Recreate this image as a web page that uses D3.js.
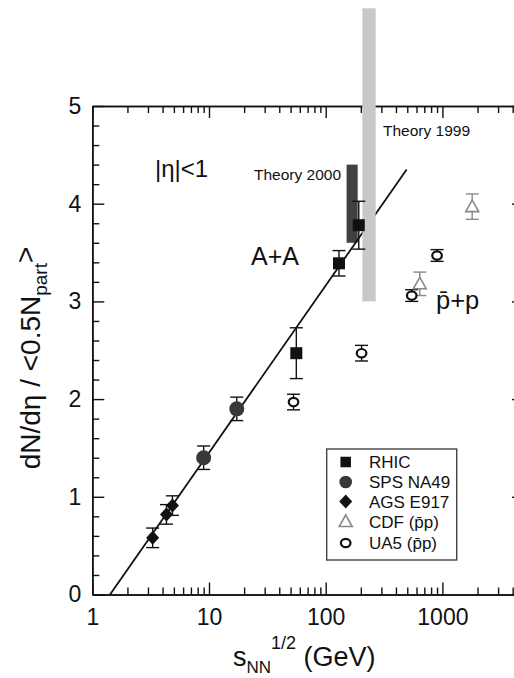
<!DOCTYPE html>
<html>
<head>
<meta charset="utf-8">
<script src="https://cdn.jsdelivr.net/npm/d3@7"></script>
<style>
  body { margin: 0; background: #fff; }
  svg { display: block; font-family: "Liberation Sans", Arial, Helvetica, sans-serif; }
</style>
</head>
<body>
<svg id="chart" width="514" height="678"></svg>
<script>
// Charged-particle density per participant pair vs. collision energy
const rhicX = [56, 130, 192],  rhicY = [2.47, 3.39, 3.78], rhicErr = [0.26, 0.13, 0.245];
const spsX  = [9.0, 17.3],      spsY  = [1.40, 1.90],       spsErr  = [0.12, 0.12];
const agsX  = [3.29, 4.32, 4.86], agsY = [0.58, 0.82, 0.91], agsErr = [0.1, 0.1, 0.1];
const cdfX  = [640, 1800],      cdfY  = [3.18, 3.97],       cdfErr  = [0.12, 0.13];
const ua5X  = [53, 203, 546, 900], ua5Y = [1.97, 2.47, 3.06, 3.47], ua5Err = [0.08, 0.08, 0.06, 0.06];

// logarithmic fit through the A+A points
const fitX = [1.42, 494];
const fitY = [0, 4.35];

// theory predictions (energy range, multiplicity range)
const theory2000X = [151, 188], theory2000Y = [3.6, 4.4];
const theory1999X = [206, 268], theory1999Y = [3.0, 6.0];

const xTicks = [1, 10, 100, 1000];
const yTicks = [0, 1, 2, 3, 4, 5];

const legendLabels = ["RHIC", "SPS NA49", "AGS E917", "CDF (p\u0304p)", "UA5 (p\u0304p)"];

const svg = d3.select("#chart");
const plotLeft = 92.3, plotBottom = 594.5, plotTop = 106;
const x = d3.scaleLog().domain([1, 5000]).range([plotLeft, plotLeft + 116.7 * Math.log10(5000)]);
const y = d3.scaleLinear().domain([0, 5]).range([plotBottom, plotTop]);
const plotRight = x(5000);

const xMinor = [];
for (let d = 1; d <= 1000; d *= 10) for (let k = 2; k <= 9; k++) if (d * k <= 5000) xMinor.push(d * k);
const yMinor = d3.range(0, 5.001, 0.2).filter(v => Math.abs(v - Math.round(v)) > 1e-6);

const INK = "#111";

function styleAxis(g) {
  g.selectAll("path.domain").attr("stroke", INK).attr("stroke-width", 1.6);
  g.selectAll(".tick line").attr("stroke", INK).attr("stroke-width", 1.4);
  g.selectAll(".tick text").attr("fill", INK).style("font-size", "23px")
    .style("font-family", "\"Liberation Sans\", Arial, sans-serif");
}

// bottom
svg.append("g").attr("transform", `translate(0,${plotBottom})`)
  .call(d3.axisBottom(x).tickValues(xMinor).tickSizeInner(-7).tickSizeOuter(0).tickFormat(""))
  .call(styleAxis);
svg.append("g").attr("transform", `translate(0,${plotBottom})`)
  .call(d3.axisBottom(x).tickValues(xTicks).tickSizeInner(-12).tickSizeOuter(0).tickPadding(14).tickFormat(d3.format("d")))
  .call(styleAxis);
// top
svg.append("g").attr("transform", `translate(0,${plotTop})`)
  .call(d3.axisTop(x).tickValues(xMinor).tickSizeInner(-7).tickSizeOuter(0).tickFormat(""))
  .call(styleAxis);
svg.append("g").attr("transform", `translate(0,${plotTop})`)
  .call(d3.axisTop(x).tickValues(xTicks).tickSizeInner(-12).tickSizeOuter(0).tickFormat(""))
  .call(styleAxis);
// left
svg.append("g").attr("transform", `translate(${plotLeft},0)`)
  .call(d3.axisLeft(y).tickValues(yMinor).tickSizeInner(-7).tickSizeOuter(0).tickFormat(""))
  .call(styleAxis);
svg.append("g").attr("transform", `translate(${plotLeft},0)`)
  .call(d3.axisLeft(y).tickValues(yTicks).tickSizeInner(-12).tickSizeOuter(0).tickPadding(11).tickFormat(d3.format("d")))
  .call(styleAxis);
// right
svg.append("g").attr("transform", `translate(${plotRight},0)`)
  .call(d3.axisRight(y).tickValues(yMinor).tickSizeInner(-7).tickSizeOuter(0).tickFormat(""))
  .call(styleAxis);
svg.append("g").attr("transform", `translate(${plotRight},0)`)
  .call(d3.axisRight(y).tickValues(yTicks).tickSizeInner(-12).tickSizeOuter(0).tickFormat(""))
  .call(styleAxis);

// Theory 2000 band (dark)
svg.append("rect")
  .attr("x", x(theory2000X[0])).attr("width", x(theory2000X[1]) - x(theory2000X[0]))
  .attr("y", y(theory2000Y[1])).attr("height", y(theory2000Y[0]) - y(theory2000Y[1]))
  .attr("fill", "#404040");

// fit line
svg.append("path")
  .datum(fitX.map((v, i) => [v, fitY[i]]))
  .attr("d", d3.line().x(d => x(d[0])).y(d => y(d[1])))
  .attr("fill", "none").attr("stroke", INK).attr("stroke-width", 1.8);

// Theory 1999 band (light), drawn over the fit line and the frame
svg.append("rect")
  .attr("x", x(theory1999X[0])).attr("width", x(theory1999X[1]) - x(theory1999X[0]))
  .attr("y", y(theory1999Y[1])).attr("height", y(theory1999Y[0]) - y(theory1999Y[1]))
  .attr("fill", "#c8c8c8");

// error bars
function errorBars(xs, ys, es, color) {
  const g = svg.append("g").attr("stroke", color).attr("stroke-width", 1.4).attr("fill", "none");
  xs.forEach((xv, i) => {
    const cx = x(xv), y1 = y(ys[i] - es[i]), y2 = y(ys[i] + es[i]);
    g.append("line").attr("x1", cx).attr("x2", cx).attr("y1", y1).attr("y2", y2);
    g.append("line").attr("x1", cx - 6.5).attr("x2", cx + 6.5).attr("y1", y1).attr("y2", y1);
    g.append("line").attr("x1", cx - 6.5).attr("x2", cx + 6.5).attr("y1", y2).attr("y2", y2);
  });
}
errorBars(agsX, agsY, agsErr, INK);
errorBars(spsX, spsY, spsErr, INK);
errorBars(rhicX, rhicY, rhicErr, INK);
errorBars(ua5X, ua5Y, ua5Err, INK);
errorBars(cdfX, cdfY, cdfErr, "#8a8a8a");

// marker shapes
const diamond = "M0,-7L6.5,0L0,7L-6.5,0Z";
const triangle = "M0,-6.5L6.5,5L-6.5,5Z";

function drawSquare(g, cx, cy, s) {
  g.append("rect").attr("x", cx - s / 2).attr("y", cy - s / 2).attr("width", s).attr("height", s).attr("fill", INK);
}
function drawCircle(g, cx, cy, r) {
  g.append("circle").attr("cx", cx).attr("cy", cy).attr("r", r).attr("fill", "#383838");
}
function drawDiamond(g, cx, cy) {
  g.append("path").attr("d", diamond).attr("transform", `translate(${cx},${cy})`).attr("fill", INK);
}
function drawTriangle(g, cx, cy) {
  g.append("path").attr("d", triangle).attr("transform", `translate(${cx},${cy})`)
    .attr("fill", "#fff").attr("stroke", "#8a8a8a").attr("stroke-width", 1.6);
}
function drawOpen(g, cx, cy) {
  g.append("ellipse").attr("cx", cx).attr("cy", cy).attr("rx", 4.8).attr("ry", 4.2)
    .attr("fill", "#fff").attr("stroke", INK).attr("stroke-width", 2.2);
}

const marks = svg.append("g");
agsX.forEach((v, i) => drawDiamond(marks, x(v), y(agsY[i])));
spsX.forEach((v, i) => drawCircle(marks, x(v), y(spsY[i]), 7.5));
rhicX.forEach((v, i) => drawSquare(marks, x(v), y(rhicY[i]), 12));
ua5X.forEach((v, i) => drawOpen(marks, x(v), y(ua5Y[i])));
cdfX.forEach((v, i) => drawTriangle(marks, x(v), y(cdfY[i])));

// annotations
function label(txt, px, py, size, anchor) {
  return svg.append("text").attr("x", px).attr("y", py).attr("fill", INK)
    .style("font-size", size + "px").attr("text-anchor", anchor || "start").text(txt);
}
label("|\u03B7|<1", 155, 177, 24);
label("Theory 2000", 254, 180, 15.5);
label("Theory 1999", 383, 136, 15.5);
label("A+A", 251, 265, 25);
label("p\u0304+p", 436, 309, 25.5);

// legend
const lg = svg.append("g");
lg.append("rect").attr("x", 326.7).attr("y", 449).attr("width", 130).attr("height", 111)
  .attr("fill", "#fff").attr("stroke", "#444").attr("stroke-width", 1.4);
const rowY = [462, 482, 501.5, 521.5, 543];
const lx = 345.7;
drawSquare(lg, lx, rowY[0], 10.5);
drawCircle(lg, lx, rowY[1], 6.3);
drawDiamond(lg, lx, rowY[2]);
drawTriangle(lg, lx, rowY[3]);
drawOpen(lg, lx, rowY[4]);
legendLabels.forEach((t, i) => {
  lg.append("text").attr("x", 369).attr("y", rowY[i] + 6).attr("fill", INK)
    .style("font-size", "17px").text(t);
});

// axis titles
const xt = svg.append("text").attr("x", 233).attr("y", 666).attr("fill", INK).style("font-size", "27px");
xt.append("tspan").text("s");
xt.append("tspan").attr("dy", 7).style("font-size", "17px").text("NN");
xt.append("tspan").attr("dy", -24).style("font-size", "18px").text("1/2");
xt.append("tspan").attr("dy", 17).text(" (GeV)");

const yt = svg.append("text").attr("transform", "translate(40,358) rotate(-90)")
  .attr("text-anchor", "middle").attr("fill", INK).style("font-size", "28px");
yt.append("tspan").text("dN/d\u03B7 / <0.5N");
yt.append("tspan").attr("dy", 7).style("font-size", "19px").text("part");
yt.append("tspan").attr("dy", -12).text(">");
</script>
</body>
</html>
